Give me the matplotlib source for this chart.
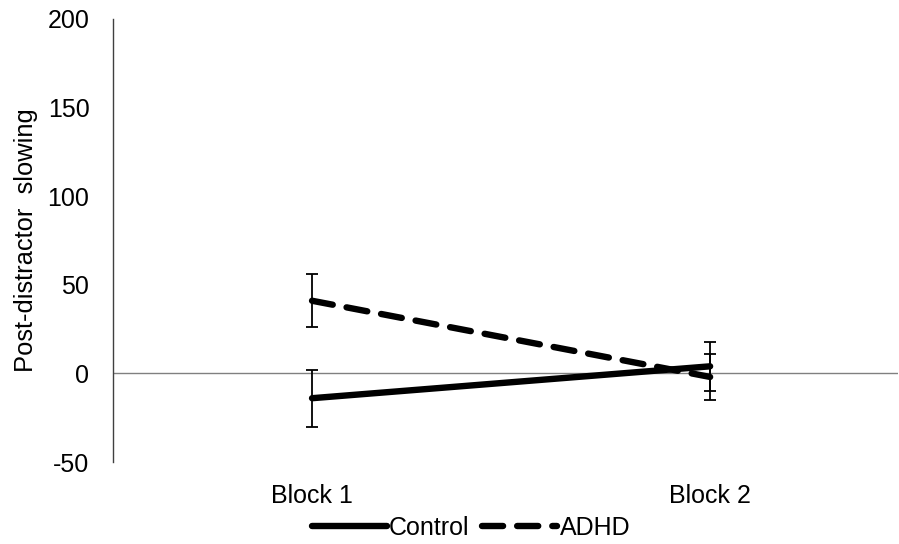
import matplotlib.pyplot as plt

categories = ['Block 1', 'Block 2']
control = [-14, 4]
control_err = [16, 14]
adhd = [41, -2]
adhd_err = [15, 13]

plt.rcParams['font.family'] = ['Liberation Sans', 'DejaVu Sans']
plt.rcParams['axes.unicode_minus'] = False

fig = plt.figure(figsize=(8.99, 5.44), dpi=100)
ax = fig.add_axes([113 / 899, 1 - 462 / 544, (898 - 113) / 899, (462 - 19) / 544])

x = list(range(len(categories)))

ax.axhline(0, color='#808080', lw=1, zorder=1)

ax.errorbar(x, control, yerr=control_err, fmt='none', ecolor='black',
            elinewidth=1.3, capsize=4.5, capthick=1.3, zorder=2)
ax.errorbar(x, adhd, yerr=adhd_err, fmt='none', ecolor='black',
            elinewidth=1.3, capsize=4.5, capthick=1.3, zorder=2)

ax.plot(x, control, color='black', lw=4.6, solid_capstyle='round', label='Control', zorder=3)
ax.plot(x, adhd, color='black', lw=4.6, ls=(0, (3.3, 2.2)), dash_capstyle='round',
        label='ADHD', zorder=3)

ax.set_xlim(-0.5, 1.472)
ax.set_ylim(-50, 200)
ax.set_yticks([-50, 0, 50, 100, 150, 200])
ax.set_xticks(x)
ax.set_xticklabels(categories)
ax.tick_params(axis='both', length=0, labelsize=18)
ax.tick_params(axis='y', pad=17)
ax.tick_params(axis='x', pad=16)

for s in ['top', 'right', 'bottom']:
    ax.spines[s].set_visible(False)
ax.spines['left'].set_color('#404040')
ax.spines['left'].set_linewidth(1)

ax.set_ylabel('Post-distractor  slowing', fontsize=18.4, labelpad=7)

fig.legend(loc='center', bbox_to_anchor=(471 / 899, 1 - 528 / 544), ncol=2,
           frameon=False, fontsize=18, handlelength=3.0, handletextpad=0.1,
           columnspacing=0.5, borderpad=0, borderaxespad=0)

fig.savefig('out.png', dpi=100)
